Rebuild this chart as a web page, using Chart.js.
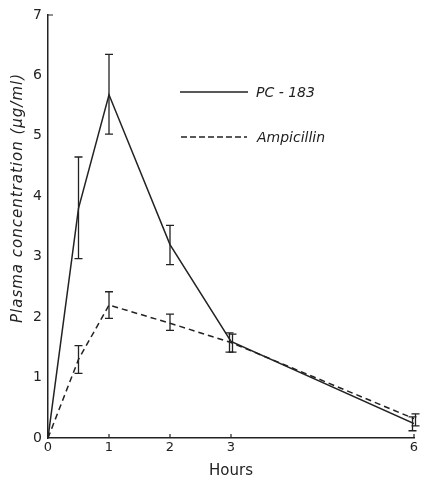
<!DOCTYPE html>
<html>
<head>
<meta charset="utf-8">
<script src="https://cdn.jsdelivr.net/npm/chart.js@4"></script>
<style>
  html, body { margin: 0; padding: 0; background: #fff; }
  #wrap { width: 421px; height: 480px; }
</style>
</head>
<body>
<div id="wrap"><canvas id="chart" width="421" height="480"></canvas></div>
<script>
const hours = [0, 0.5, 1, 2, 3, 6];
const xTicks = [0, 1, 2, 3, 6];
const yTicks = [0, 1, 2, 3, 4, 5, 6, 7];

const pc183 = [0, 3.8, 5.68, 3.2, 1.6, 0.24];
const pc183Hi = [null, 4.65, 6.35, 3.52, 1.74, 0.35];
const pc183Lo = [null, 2.97, 5.03, 2.87, 1.42, 0.12];

const ampicillin = [0, 1.3, 2.2, 1.9, 1.58, 0.32];
const ampicillinHi = [null, 1.53, 2.42, 2.05, 1.72, 0.4];
const ampicillinLo = [null, 1.07, 1.98, 1.78, 1.42, 0.2];

const ink = "#222";

function points(ys) {
  return hours.map((h, i) => ({ x: h, y: ys[i] }));
}

const extras = {
  id: "extras",
  afterDatasetsDraw(c) {
    const ctx = c.ctx;
    const xs = c.scales.x, ys = c.scales.y;
    const area = c.chartArea;
    ctx.save();
    ctx.strokeStyle = ink;
    ctx.fillStyle = ink;
    ctx.lineWidth = 1.3;

    // error bars
    const bars = [[pc183Hi, pc183Lo, -1], [ampicillinHi, ampicillinLo, 1]];
    bars.forEach(([hi, lo, side]) => {
      hours.forEach((h, i) => {
        if (hi[i] == null) return;
        let x = xs.getPixelForValue(h);
        if (h >= 3) x += side * 1.5;
        const y1 = ys.getPixelForValue(hi[i]);
        const y2 = ys.getPixelForValue(lo[i]);
        ctx.beginPath();
        ctx.moveTo(x, y1); ctx.lineTo(x, y2);
        ctx.moveTo(x - 4, y1); ctx.lineTo(x + 4, y1);
        ctx.moveTo(x - 4, y2); ctx.lineTo(x + 4, y2);
        ctx.stroke();
      });
    });

    // inward tick marks
    ctx.lineWidth = 1.2;
    ctx.beginPath();
    xTicks.slice(1).forEach(v => {
      const x = xs.getPixelForValue(v);
      ctx.moveTo(x, area.bottom); ctx.lineTo(x, area.bottom - 4);
    });
    const yTop = ys.getPixelForValue(7);
    ctx.moveTo(area.left, yTop); ctx.lineTo(area.left + 5, yTop);
    ctx.stroke();

    // legend
    ctx.lineWidth = 1.5;
    ctx.beginPath();
    ctx.moveTo(180, 92); ctx.lineTo(248, 92);
    ctx.stroke();
    ctx.setLineDash([6, 3]);
    ctx.beginPath();
    ctx.moveTo(181, 137); ctx.lineTo(247, 137);
    ctx.stroke();
    ctx.setLineDash([]);
    ctx.font = "italic 14px 'DejaVu Sans'";
    ctx.textBaseline = "middle";
    ctx.textAlign = "left";
    ctx.fillText("PC - 183", 256, 93);
    ctx.fillText("Ampicillin", 257, 138);

    // y axis title
    ctx.translate(18, 198);
    ctx.rotate(-Math.PI / 2);
    ctx.textAlign = "center";
    ctx.font = "italic 15px 'DejaVu Sans'";
    ctx.letterSpacing = "1px";
    ctx.fillText("Plasma concentration (\u03bcg/ml)", 0, 0);
    ctx.restore();
  }
};

new Chart(document.getElementById("chart"), {
  type: "line",
  data: {
    datasets: [
      {
        label: "PC - 183",
        data: points(pc183),
        borderColor: ink,
        borderWidth: 1.5,
        pointRadius: 0,
        tension: 0
      },
      {
        label: "Ampicillin",
        data: points(ampicillin),
        borderColor: ink,
        borderWidth: 1.5,
        borderDash: [6, 4],
        pointRadius: 0,
        tension: 0
      }
    ]
  },
  options: {
    responsive: false,
    animation: false,
    layout: { padding: { top: 15, right: 7, left: 0, bottom: 0 } },
    plugins: { legend: { display: false }, tooltip: { enabled: false } },
    scales: {
      x: {
        type: "linear",
        min: 0,
        max: 6,
        afterBuildTicks: s => { s.ticks = xTicks.map(v => ({ value: v })); },
        afterFit: s => { s.height = 42; },
        grid: { display: false, drawTicks: false },
        border: { display: true, color: ink, width: 1.5 },
        ticks: { color: ink, font: { family: "DejaVu Sans", size: 13 }, padding: 2 },
        title: {
          display: true,
          text: "Hours",
          color: ink,
          font: { family: "DejaVu Sans", size: 15 },
          padding: { top: 2, bottom: 0 }
        }
      },
      y: {
        min: 0,
        max: 7,
        afterBuildTicks: s => { s.ticks = yTicks.map(v => ({ value: v })); },
        afterFit: s => { s.width = 48; },
        grid: { display: false, drawTicks: false },
        border: { display: true, color: ink, width: 1.5 },
        ticks: { color: ink, font: { family: "DejaVu Sans", size: 14 }, padding: 6 }
      }
    }
  },
  plugins: [extras]
});
</script>
</body>
</html>
